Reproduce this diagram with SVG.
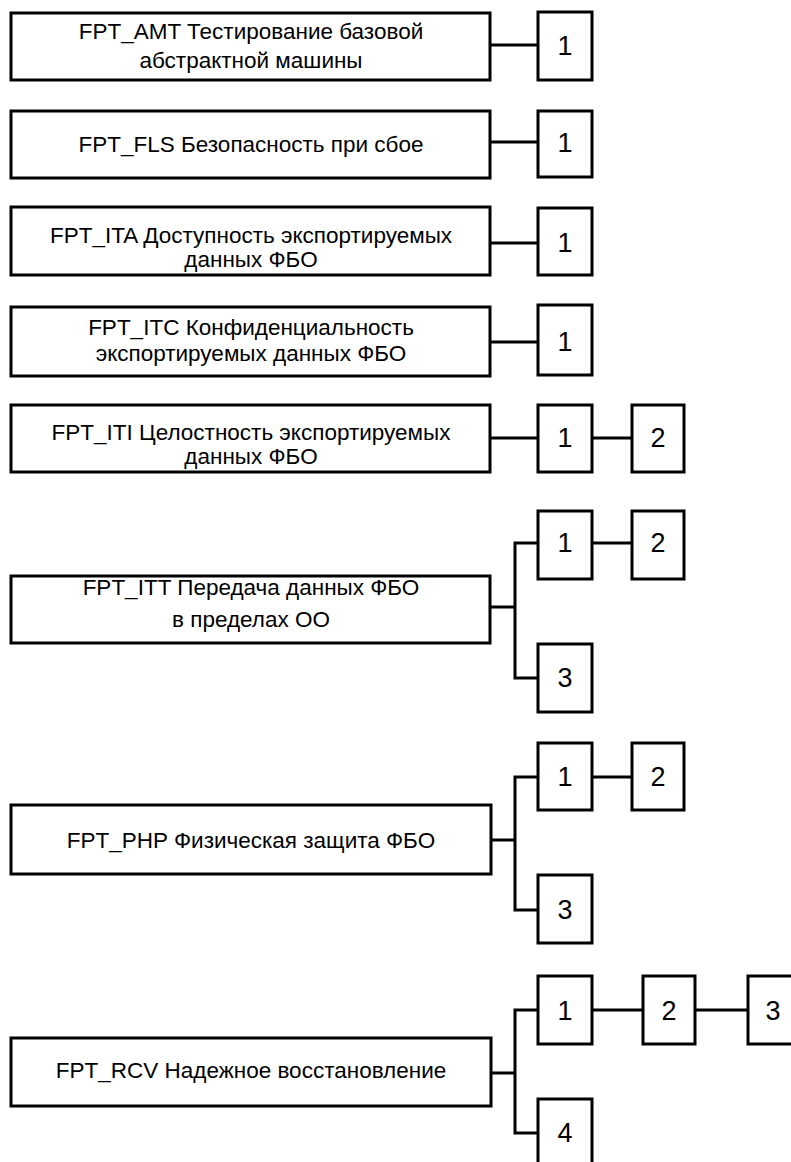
<svg xmlns="http://www.w3.org/2000/svg" width="791" height="1162" viewBox="0 0 791 1162">
<style>
.b{fill:#fff;stroke:#000;stroke-width:3}
.t{font-family:"Liberation Sans",Arial,sans-serif;font-size:22.5px;text-anchor:middle;fill:#000}
.n{font-family:"Liberation Sans",Arial,sans-serif;font-size:27px;text-anchor:middle;fill:#000}
.c{fill:none;stroke:#000;stroke-width:3}
</style>
<rect width="791" height="1162" fill="#fff"/>
<g id="connectors">
<path class="c" d="M490 45H538"/>
<path class="c" d="M490 142H538"/>
<path class="c" d="M490 243H538"/>
<path class="c" d="M490 342H538"/>
<path class="c" d="M490 438H538M592 438H632"/>
<path class="c" d="M490 607H515M538 543H515V678H538M592 543H632"/>
<path class="c" d="M490 840H515M538 777H515V910H538M592 777H632"/>
<path class="c" d="M490 1073H515M538 1010H515V1133H538M592 1010H643M695 1010H748"/>
</g>
<g id="amt"><rect class="b" x="11" y="13" width="479" height="67"/><text class="t" x="251" y="39">FPT_AMT Тестирование базовой</text><text class="t" x="251" y="68">абстрактной машины</text></g>
<g id="amt1"><rect class="b" x="538" y="12" width="54" height="68"/><text class="n" x="565" y="55">1</text></g>
<g id="fls"><rect class="b" x="11" y="111" width="479" height="67"/><text class="t" x="251" y="152">FPT_FLS Безопасность при сбое</text></g>
<g id="fls1"><rect class="b" x="538" y="111" width="54" height="66"/><text class="n" x="565" y="152">1</text></g>
<g id="ita"><rect class="b" x="11" y="207" width="479" height="68"/><text class="t" x="251" y="243">FPT_ITA Доступность экспортируемых</text><text class="t" x="251" y="267">данных ФБО</text></g>
<g id="ita1"><rect class="b" x="538" y="208" width="54" height="67"/><text class="n" x="565" y="252">1</text></g>
<g id="itc"><rect class="b" x="11" y="307" width="479" height="69"/><text class="t" x="251" y="335">FPT_ITC Конфиденциальность</text><text class="t" x="251" y="361">экспортируемых данных ФБО</text></g>
<g id="itc1"><rect class="b" x="538" y="305" width="54" height="70"/><text class="n" x="565" y="351">1</text></g>
<g id="iti"><rect class="b" x="11" y="405" width="479" height="67"/><text class="t" x="251" y="440">FPT_ITI Целостность экспортируемых</text><text class="t" x="251" y="464">данных ФБО</text></g>
<g id="iti1"><rect class="b" x="538" y="405" width="54" height="67"/><text class="n" x="565" y="447">1</text></g>
<g id="iti2"><rect class="b" x="632" y="405" width="52" height="67"/><text class="n" x="658" y="447">2</text></g>
<g id="itt"><rect class="b" x="11" y="576" width="479" height="67"/><text class="t" x="251" y="595">FPT_ITT Передача данных ФБО</text><text class="t" x="251" y="627">в пределах ОО</text></g>
<g id="itt1"><rect class="b" x="538" y="511" width="54" height="68"/><text class="n" x="565" y="552">1</text></g>
<g id="itt2"><rect class="b" x="632" y="511" width="52" height="68"/><text class="n" x="658" y="552">2</text></g>
<g id="itt3"><rect class="b" x="538" y="644" width="54" height="68"/><text class="n" x="565" y="687">3</text></g>
<g id="php"><rect class="b" x="11" y="805" width="480" height="69"/><text class="t" x="251" y="848">FPT_PHP Физическая защита ФБО</text></g>
<g id="php1"><rect class="b" x="538" y="743" width="54" height="67"/><text class="n" x="565" y="786">1</text></g>
<g id="php2"><rect class="b" x="632" y="743" width="52" height="67"/><text class="n" x="658" y="786">2</text></g>
<g id="php3"><rect class="b" x="538" y="875" width="54" height="68"/><text class="n" x="565" y="919">3</text></g>
<g id="rcv"><rect class="b" x="11" y="1038" width="480" height="68"/><text class="t" x="251" y="1078">FPT_RCV Надежное восстановление</text></g>
<g id="rcv1"><rect class="b" x="538" y="976" width="54" height="68"/><text class="n" x="565" y="1020">1</text></g>
<g id="rcv2"><rect class="b" x="643" y="976" width="52" height="68"/><text class="n" x="669" y="1020">2</text></g>
<g id="rcv3"><rect class="b" x="748" y="976" width="54" height="68"/><text class="n" x="773" y="1020">3</text></g>
<g id="rcv4"><rect class="b" x="538" y="1099" width="54" height="68"/><text class="n" x="565" y="1142">4</text></g>
</svg>
